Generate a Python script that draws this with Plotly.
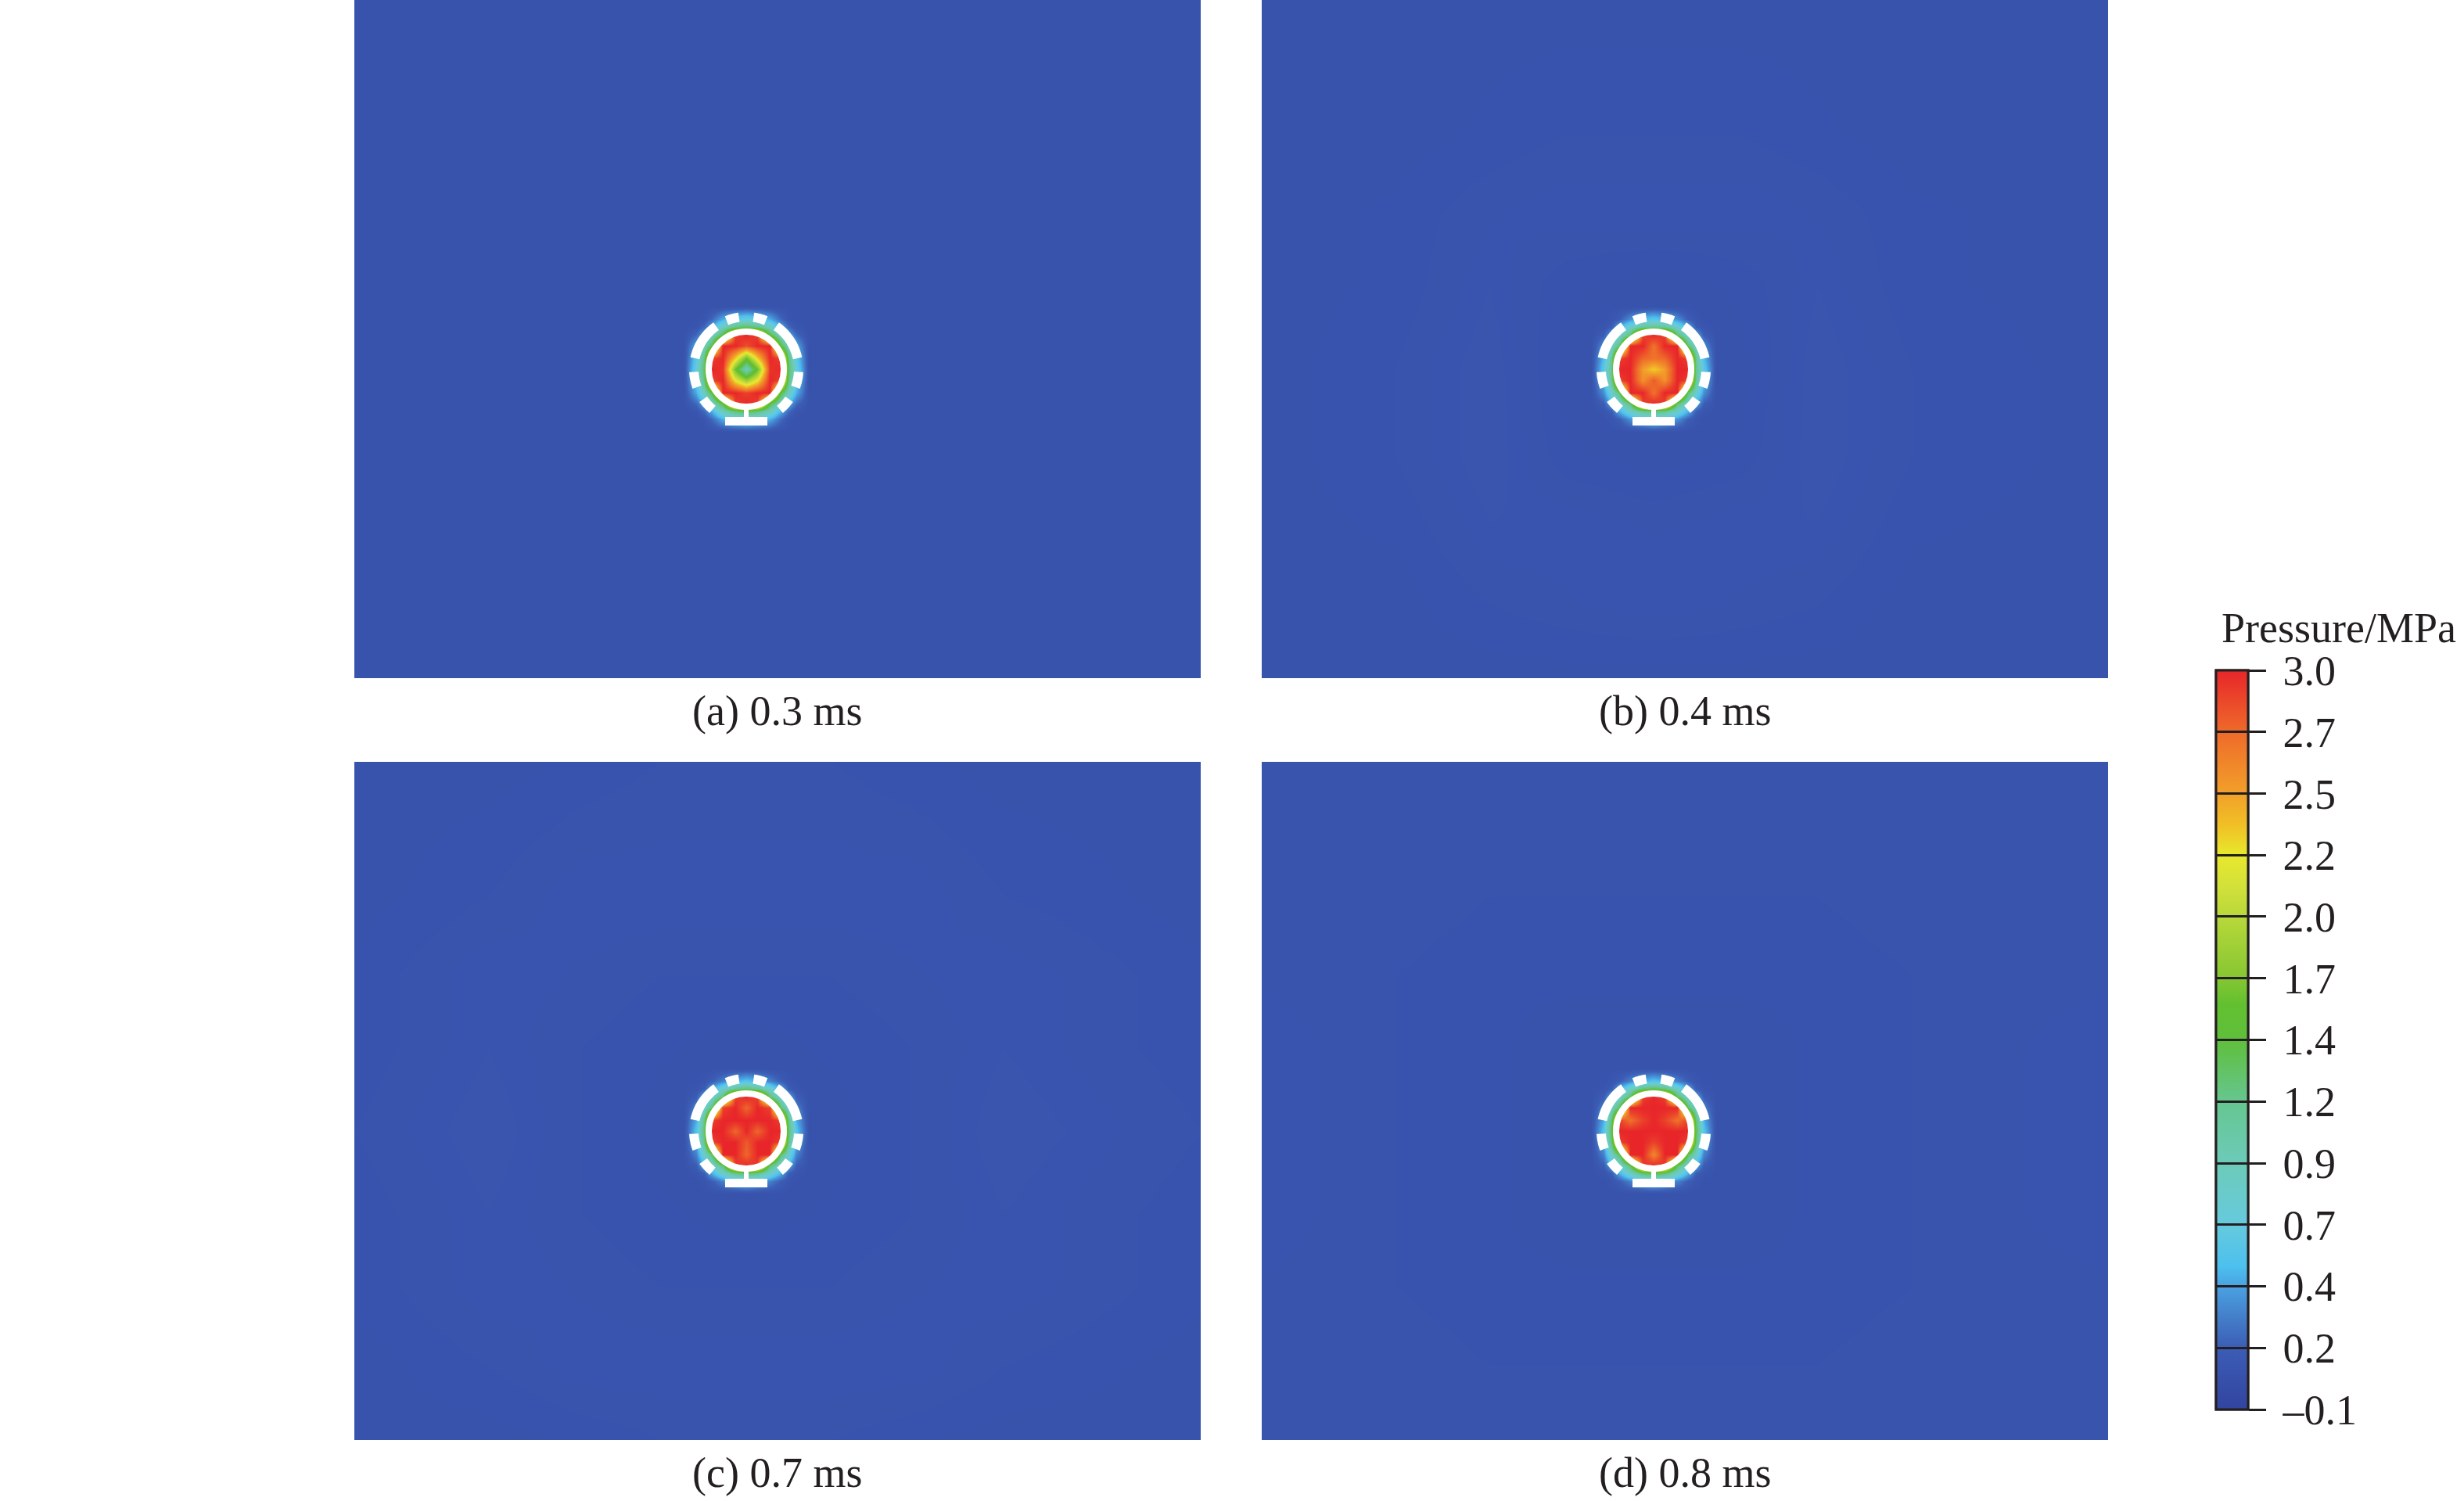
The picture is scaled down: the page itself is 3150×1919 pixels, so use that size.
import numpy as np
import plotly.graph_objects as go

# pressure contour levels shown on the colour bar (MPa)
levels = [-0.1, 0.158, 0.417, 0.675, 0.933, 1.192, 1.45, 1.708, 1.967, 2.225, 2.483, 2.742, 3.0]
level_labels = ["\u20130.1", "0.2", "0.4", "0.7", "0.9", "1.2", "1.4", "1.7", "2.0", "2.2", "2.5", "2.7", "3.0"]

# colour map
cs_vals = [-0.1, 0.158, 0.3, 0.417, 0.5, 0.675, 0.933, 1.192, 1.45, 1.6, 1.708,
           1.967, 2.1, 2.225, 2.35, 2.483, 2.742, 3.0]
cs_cols = ["#3244a0", "#3c5db5", "#4482cc", "#4aa2e2", "#4cc0ee", "#66cade", "#6ccbb8",
           "#66c690", "#5fbf3a", "#62c030", "#86c632", "#b8d83a", "#d4e13a", "#e8e82c",
           "#f0c026", "#f2a02a", "#ee6a2a", "#e8262a"]

panel_labels = ["(a) 0.3 ms", "(b) 0.4 ms", "(c) 0.7 ms", "(d) 0.8 ms"]

# sample positions (px from charge centre), rows listed top to bottom
core_nodes = [-80, -64, -54, -44, -30, -14, 0, 14, 30, 44, 54, 64, 80]
bg_x = [-500, -330, -210, -110, 0, 110, 210, 330, 582]
bg_y = [472, 300, 200, 110, 0, -110, -200, -300, -394]

core_a = [
    [0.05, 0.05, 0.05, 0.05, 0.05, 0.05, 0.05, 0.05, 0.05, 0.05, 0.05, 0.05, 0.05],
    [0.05, 0.05, 0.08, 0.2, 0.45, 0.6, 0.7, 0.6, 0.45, 0.2, 0.08, 0.05, 0.05],
    [0.05, 0.08, 0.2, 0.45, 0.9, 1.25, 1.35, 1.25, 0.9, 0.45, 0.2, 0.08, 0.05],
    [0.05, 0.2, 0.45, 0.85, 1.45, 2.9, 3.0, 2.9, 1.45, 0.85, 0.45, 0.2, 0.05],
    [0.05, 0.45, 0.9, 1.45, 3.0, 3.0, 2.85, 3.0, 3.0, 1.45, 0.9, 0.45, 0.05],
    [0.05, 0.6, 1.25, 2.9, 3.0, 2.3, 1.6, 2.3, 3.0, 2.9, 1.25, 0.6, 0.05],
    [0.05, 0.7, 1.35, 3.0, 2.95, 1.6, 0.9, 1.6, 2.95, 3.0, 1.35, 0.7, 0.05],
    [0.05, 0.6, 1.25, 2.9, 3.0, 2.2, 1.8, 2.2, 3.0, 2.9, 1.25, 0.6, 0.05],
    [0.05, 0.45, 0.9, 1.45, 3.0, 3.0, 2.9, 3.0, 3.0, 1.45, 0.9, 0.45, 0.05],
    [0.05, 0.2, 0.45, 0.85, 1.45, 2.9, 3.0, 2.9, 1.45, 0.85, 0.45, 0.2, 0.05],
    [0.05, 0.08, 0.2, 0.45, 0.9, 1.25, 1.35, 1.25, 0.9, 0.45, 0.2, 0.08, 0.05],
    [0.05, 0.05, 0.08, 0.2, 0.45, 0.6, 0.7, 0.6, 0.45, 0.2, 0.08, 0.05, 0.05],
    [0.05, 0.05, 0.05, 0.05, 0.05, 0.05, 0.05, 0.05, 0.05, 0.05, 0.05, 0.05, 0.05],
]
core_b = [
    [0.05, 0.05, 0.05, 0.05, 0.05, 0.05, 0.05, 0.05, 0.05, 0.05, 0.05, 0.05, 0.05],
    [0.05, 0.05, 0.08, 0.15, 0.35, 0.5, 0.6, 0.5, 0.35, 0.15, 0.08, 0.05, 0.05],
    [0.05, 0.08, 0.15, 0.45, 0.8, 1.15, 1.2, 1.15, 0.8, 0.45, 0.15, 0.08, 0.05],
    [0.05, 0.15, 0.45, 0.75, 1.3, 2.9, 3.0, 2.9, 1.3, 0.75, 0.45, 0.15, 0.05],
    [0.05, 0.35, 0.8, 1.3, 3.0, 3.0, 2.7, 3.0, 3.0, 1.3, 0.8, 0.35, 0.05],
    [0.05, 0.5, 1.15, 2.9, 3.0, 2.75, 2.7, 2.75, 3.0, 2.9, 1.15, 0.5, 0.05],
    [0.05, 0.6, 1.2, 3.0, 3.0, 2.5, 2.3, 2.5, 3.0, 3.0, 1.2, 0.6, 0.05],
    [0.05, 0.5, 1.15, 2.9, 3.0, 2.55, 2.8, 2.55, 3.0, 2.9, 1.15, 0.5, 0.05],
    [0.05, 0.35, 0.8, 1.3, 3.0, 3.0, 2.7, 3.0, 3.0, 1.3, 0.8, 0.35, 0.05],
    [0.05, 0.15, 0.45, 0.75, 1.3, 2.9, 3.0, 2.9, 1.3, 0.75, 0.45, 0.15, 0.05],
    [0.05, 0.08, 0.15, 0.45, 0.8, 1.15, 1.2, 1.15, 0.8, 0.45, 0.15, 0.08, 0.05],
    [0.05, 0.05, 0.08, 0.15, 0.35, 0.5, 0.6, 0.5, 0.35, 0.15, 0.08, 0.05, 0.05],
    [0.05, 0.05, 0.05, 0.05, 0.05, 0.05, 0.05, 0.05, 0.05, 0.05, 0.05, 0.05, 0.05],
]
core_c = [
    [0.05, 0.05, 0.05, 0.05, 0.05, 0.05, 0.05, 0.05, 0.05, 0.05, 0.05, 0.05, 0.05],
    [0.05, 0.05, 0.08, 0.15, 0.3, 0.45, 0.55, 0.45, 0.3, 0.15, 0.08, 0.05, 0.05],
    [0.05, 0.08, 0.15, 0.45, 0.8, 1.2, 1.3, 1.2, 0.8, 0.45, 0.15, 0.08, 0.05],
    [0.05, 0.15, 0.45, 0.75, 1.3, 2.9, 3.0, 2.9, 1.3, 0.75, 0.45, 0.15, 0.05],
    [0.05, 0.3, 0.8, 1.3, 2.9, 3.0, 2.75, 3.0, 2.9, 1.3, 0.8, 0.3, 0.05],
    [0.05, 0.45, 1.2, 2.9, 3.0, 3.0, 3.0, 3.0, 3.0, 2.9, 1.2, 0.45, 0.05],
    [0.05, 0.55, 1.3, 3.0, 3.0, 2.75, 3.0, 2.75, 3.0, 3.0, 1.3, 0.55, 0.05],
    [0.05, 0.45, 1.2, 2.9, 3.0, 3.0, 2.8, 3.0, 3.0, 2.9, 1.2, 0.45, 0.05],
    [0.05, 0.3, 0.8, 1.3, 3.0, 3.0, 2.75, 3.0, 3.0, 1.3, 0.8, 0.3, 0.05],
    [0.05, 0.15, 0.45, 0.75, 1.3, 2.9, 3.0, 2.9, 1.3, 0.75, 0.45, 0.15, 0.05],
    [0.05, 0.08, 0.15, 0.45, 0.8, 1.2, 1.3, 1.2, 0.8, 0.45, 0.15, 0.08, 0.05],
    [0.05, 0.05, 0.08, 0.15, 0.3, 0.45, 0.55, 0.45, 0.3, 0.15, 0.08, 0.05, 0.05],
    [0.05, 0.05, 0.05, 0.05, 0.05, 0.05, 0.05, 0.05, 0.05, 0.05, 0.05, 0.05, 0.05],
]
core_d = [
    [0.05, 0.05, 0.05, 0.05, 0.05, 0.05, 0.05, 0.05, 0.05, 0.05, 0.05, 0.05, 0.05],
    [0.05, 0.05, 0.08, 0.15, 0.3, 0.45, 0.55, 0.45, 0.3, 0.15, 0.08, 0.05, 0.05],
    [0.05, 0.08, 0.15, 0.45, 0.85, 1.3, 1.4, 1.3, 0.85, 0.45, 0.15, 0.08, 0.05],
    [0.05, 0.15, 0.45, 0.75, 1.35, 2.9, 3.0, 2.9, 1.35, 0.75, 0.45, 0.15, 0.05],
    [0.05, 0.3, 0.85, 1.35, 3.0, 3.0, 3.0, 3.0, 3.0, 1.35, 0.85, 0.3, 0.05],
    [0.05, 0.45, 1.3, 2.9, 2.7, 2.9, 3.0, 2.9, 2.7, 2.9, 1.3, 0.45, 0.05],
    [0.05, 0.55, 1.4, 3.0, 3.0, 3.0, 3.0, 3.0, 3.0, 3.0, 1.4, 0.55, 0.05],
    [0.05, 0.45, 1.3, 2.9, 3.0, 3.0, 2.9, 3.0, 3.0, 2.9, 1.3, 0.45, 0.05],
    [0.05, 0.3, 0.85, 1.35, 3.0, 3.0, 2.6, 3.0, 3.0, 1.35, 0.85, 0.3, 0.05],
    [0.05, 0.15, 0.45, 0.75, 1.35, 2.9, 3.0, 2.9, 1.35, 0.75, 0.45, 0.15, 0.05],
    [0.05, 0.08, 0.15, 0.45, 0.85, 1.3, 1.4, 1.3, 0.85, 0.45, 0.15, 0.08, 0.05],
    [0.05, 0.05, 0.08, 0.15, 0.3, 0.45, 0.55, 0.45, 0.3, 0.15, 0.08, 0.05, 0.05],
    [0.05, 0.05, 0.05, 0.05, 0.05, 0.05, 0.05, 0.05, 0.05, 0.05, 0.05, 0.05, 0.05],
]

# faint far-field ripples (panel a is flat)
bg_b = [
    [0.05, 0.05, 0.05, 0.05, 0.05, 0.05, 0.05, 0.05, 0.05],
    [0.05, 0.05, 0.055, 0.06, 0.06, 0.06, 0.055, 0.05, 0.05],
    [0.05, 0.055, 0.065, 0.07, 0.07, 0.07, 0.065, 0.055, 0.05],
    [0.05, 0.055, 0.07, 0.055, 0.05, 0.055, 0.07, 0.055, 0.05],
    [0.05, 0.06, 0.075, 0.05, 0.05, 0.05, 0.075, 0.06, 0.05],
    [0.05, 0.06, 0.075, 0.055, 0.05, 0.055, 0.075, 0.06, 0.05],
    [0.05, 0.055, 0.07, 0.07, 0.065, 0.07, 0.07, 0.055, 0.05],
    [0.05, 0.05, 0.06, 0.065, 0.07, 0.065, 0.06, 0.05, 0.05],
    [0.05, 0.05, 0.05, 0.05, 0.05, 0.05, 0.05, 0.05, 0.05],
]
bg_c = [
    [0.05, 0.05, 0.055, 0.06, 0.06, 0.06, 0.055, 0.05, 0.05],
    [0.05, 0.06, 0.07, 0.07, 0.07, 0.07, 0.07, 0.06, 0.05],
    [0.055, 0.07, 0.065, 0.06, 0.06, 0.06, 0.065, 0.07, 0.055],
    [0.055, 0.07, 0.06, 0.055, 0.05, 0.055, 0.06, 0.07, 0.055],
    [0.06, 0.075, 0.06, 0.05, 0.05, 0.05, 0.06, 0.075, 0.06],
    [0.055, 0.07, 0.06, 0.055, 0.05, 0.055, 0.06, 0.07, 0.055],
    [0.055, 0.07, 0.065, 0.06, 0.06, 0.06, 0.065, 0.07, 0.055],
    [0.05, 0.06, 0.07, 0.07, 0.07, 0.07, 0.07, 0.06, 0.05],
    [0.05, 0.05, 0.055, 0.06, 0.06, 0.06, 0.055, 0.05, 0.05],
]
bg_d = [
    [0.06, 0.065, 0.065, 0.065, 0.065, 0.065, 0.065, 0.065, 0.06],
    [0.065, 0.065, 0.06, 0.06, 0.06, 0.06, 0.06, 0.065, 0.065],
    [0.065, 0.06, 0.055, 0.055, 0.055, 0.055, 0.055, 0.06, 0.065],
    [0.07, 0.06, 0.055, 0.05, 0.05, 0.05, 0.055, 0.06, 0.07],
    [0.07, 0.06, 0.055, 0.05, 0.05, 0.05, 0.055, 0.06, 0.07],
    [0.07, 0.06, 0.055, 0.05, 0.05, 0.05, 0.055, 0.06, 0.07],
    [0.065, 0.06, 0.055, 0.055, 0.055, 0.055, 0.055, 0.06, 0.065],
    [0.065, 0.065, 0.06, 0.06, 0.06, 0.06, 0.06, 0.065, 0.065],
    [0.06, 0.065, 0.065, 0.065, 0.065, 0.065, 0.065, 0.065, 0.06],
]

core_fields = [core_a, core_b, core_c, core_d]
bg_fields = [None, bg_b, bg_c, bg_d]

# charge holder outline (white): outer segments as angle spans, degrees
tooth_arcs = [(12, 55), (68, 82), (98, 112), (125, 168), (183, 200), (215, 230), (310, 325), (340, 357)]

W, H = 3150, 1919
FONT = "Liberation Serif, Times New Roman, serif"
INK = "#231f20"
BG = "#3753ac"

span = cs_vals[-1] - cs_vals[0]
colorscale = [[(v - cs_vals[0]) / span, c] for v, c in zip(cs_vals, cs_cols)]

# panel boxes in page pixels: (left, right, top, bottom)
boxes = [(453, 1535, 0, 867), (1613, 2695, 0, 867), (453, 1535, 974, 1841), (1613, 2695, 974, 1841)]

fig = go.Figure()

cb_common = dict(
    x=2833 / W, xanchor="left", xpad=0,
    y=1 - (857 + 1802) / 2 / H, yanchor="middle", ypad=0,
    len=945, lenmode="pixels", thickness=41, thicknessmode="pixels",
    outlinewidth=3, outlinecolor=INK,
    tickmode="array", tickvals=levels, tickcolor=INK, tickwidth=3,
)
cb_outer = dict(cb_common, ticks="outside", ticklen=22,
                ticktext=["\u2009" + t for t in level_labels],
                tickfont=dict(family=FONT, size=54, color=INK))
cb_inner = dict(cb_common, ticks="inside", ticklen=41, ticktext=level_labels,
                showticklabels=False)

for i in range(4):
    sfx = "" if i == 0 else str(i + 1)
    xa, ya = "x" + sfx, "y" + sfx
    left, right, top, bottom = boxes[i]
    fig.update_layout(**{
        "xaxis" + sfx: dict(domain=[left / W, right / W], range=[-501, 581], visible=False,
                            anchor=ya, fixedrange=True),
        "yaxis" + sfx: dict(domain=[1 - bottom / H, 1 - top / H], range=[-395, 472], visible=False,
                            anchor=xa, fixedrange=True),
    })

    if bg_fields[i] is not None:
        fig.add_trace(go.Heatmap(
            x=bg_x, y=bg_y[::-1], z=np.flipud(np.array(bg_fields[i])),
            zmin=cs_vals[0], zmax=cs_vals[-1], colorscale=colorscale, zsmooth="best",
            showscale=False, hoverinfo="skip", xaxis=xa, yaxis=ya,
        ))

    show = i in (0, 1)
    fig.add_trace(go.Heatmap(
        x=core_nodes, y=core_nodes, z=np.flipud(np.array(core_fields[i])),
        zmin=cs_vals[0], zmax=cs_vals[-1], colorscale=colorscale, zsmooth="best",
        showscale=show, colorbar=(cb_outer if i == 0 else cb_inner) if show else None,
        hoverinfo="skip", xaxis=xa, yaxis=ya,
    ))

    # white charge holder: inner ring, outer segmented ring, bottom bar and stem
    fig.add_shape(type="circle", xref=xa, yref=ya, x0=-48, x1=48, y0=-48, y1=48,
                  line=dict(color="white", width=8), fillcolor="rgba(0,0,0,0)")
    for a0, a1 in tooth_arcs:
        ang = np.radians(np.linspace(a0, a1, 12))
        outer = [(73 * np.cos(t), 73 * np.sin(t)) for t in ang]
        inner = [(61 * np.cos(t), 61 * np.sin(t)) for t in ang[::-1]]
        path = "M " + " L ".join(f"{px:.1f},{py:.1f}" for px, py in outer + inner) + " Z"
        fig.add_shape(type="path", path=path, xref=xa, yref=ya,
                      fillcolor="white", line=dict(width=0))
    fig.add_shape(type="rect", xref=xa, yref=ya, x0=-27, x1=27, y0=-72, y1=-61,
                  fillcolor="white", line=dict(width=0))
    fig.add_shape(type="rect", xref=xa, yref=ya, x0=-3, x1=3, y0=-63, y1=-50,
                  fillcolor="white", line=dict(width=0))

    fig.add_annotation(text=panel_labels[i], xref="paper", yref="paper",
                       x=(left + right) / 2 / W, y=1 - (bottom + 42) / H,
                       xanchor="center", yanchor="middle", showarrow=False,
                       font=dict(family=FONT, size=54, color=INK))

# colour bar title
fig.add_annotation(text="Pressure/MPa", xref="paper", yref="paper",
                   x=2838 / W, y=1 - 803 / H, xanchor="left", yanchor="middle",
                   showarrow=False, font=dict(family=FONT, size=54, color=INK))

fig.update_layout(
    width=W, height=H,
    margin=dict(l=0, r=0, t=0, b=0),
    paper_bgcolor="white",
    plot_bgcolor=BG,
    showlegend=False,
)

fig.write_html("out.html", config={"displayModeBar": False},
               post_script="document.body.style.margin = '0px';")
